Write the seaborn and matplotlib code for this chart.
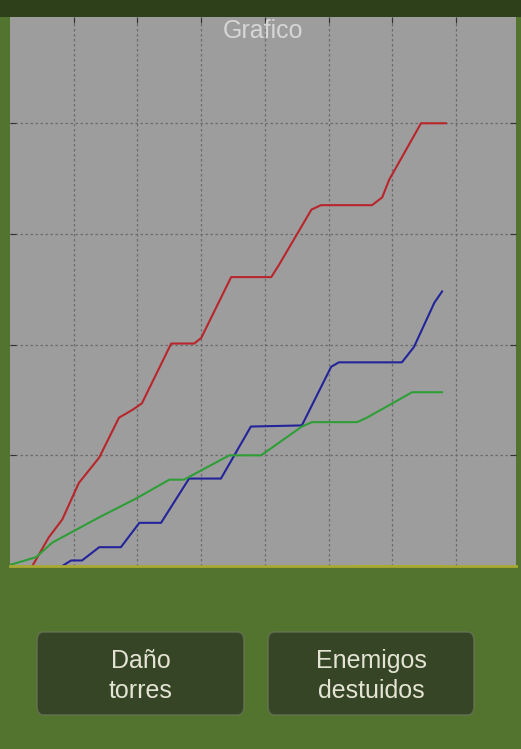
import matplotlib
matplotlib.use("Agg")
import matplotlib.pyplot as plt
from matplotlib.patches import FancyBboxPatch, Rectangle
import seaborn as sns
import pandas as pd

# ---- data ----
red_x = [3.5, 6.1, 8.2, 10.8, 14.0, 17.1, 19.2, 20.7, 25.3, 28.9, 30.0, 34.7, 41.0, 42.2,
         47.3, 48.8, 56.8, 58.4, 59.5, 64.5, 68.4]
red_y = [0, 26, 42, 75, 98, 134, 141, 147, 201, 201, 206, 261, 261, 272,
         322, 326, 326, 333, 349, 400, 400]

blue_x = [8.2, 9.6, 11.3, 14.0, 17.4, 20.3, 23.7, 28.1, 33.1, 37.8, 45.8, 50.4, 51.6,
          61.5, 63.4, 66.6, 67.8]
blue_y = [0, 5, 5, 17, 17, 39, 39, 79, 79, 126, 127, 180, 184, 184, 198, 238, 248]

green_x = [0.0, 4.1, 6.6, 14.0, 19.8, 25.0, 27.3, 34.4, 39.4, 45.8, 47.4, 54.5, 56.0, 63.1, 67.8]
green_y = [1, 8, 21, 44, 61, 78, 78, 100, 100, 126, 130, 130, 134, 157, 157]

yellow_x = [54.2, 67.8]
yellow_y = [0, 0]

title = "Grafico"
button_labels = ["Daño\ntorres", "Enemigos\ndestuidos"]

series = {"red": (red_x, red_y), "blue": (blue_x, blue_y),
          "green": (green_x, green_y), "yellow": (yellow_x, yellow_y)}
rows = []
for name, (xs, ys) in series.items():
    for x, y in zip(xs, ys):
        rows.append({"t": x, "v": y, "serie": name})
df = pd.DataFrame(rows)

palette = {"red": "#b8262c", "blue": "#23239a", "green": "#2e9e36", "yellow": "#c8c83a"}

# ---- figure ----
W, H = 521, 749
fig = plt.figure(figsize=(W / 100, H / 100), dpi=100)
fig.patch.set_facecolor("#52742e")

# darker strip at top
fig.patches.append(Rectangle((0, (H - 17) / H), 1, 17 / H, transform=fig.transFigure,
                             facecolor="#2e401a", edgecolor="none", zorder=0))

ax = fig.add_axes([10 / W, (H - 566) / H, (516 - 10) / W, (566 - 17) / H])
ax.set_facecolor("#9d9d9d")

sns.lineplot(data=df, x="t", y="v", hue="serie", palette=palette, estimator=None,
             sort=False, units="serie", linewidth=1.5, legend=False, ax=ax)

ax.set_xlim(0, 79.4)
ax.set_ylim(0, 496)
ax.set_xticks(range(10, 80, 10))
ax.set_yticks(range(100, 500, 100))
ax.set_xticklabels([])
ax.set_yticklabels([])
ax.tick_params(axis="both", direction="in", length=4, color="#333333",
               top=True, bottom=False, left=True, right=True)
ax.grid(True, color="#6c6c6c", linestyle=(0, (2, 2)), linewidth=0.9)
ax.set_xlabel("")
ax.set_ylabel("")
for s in ["top", "left", "right"]:
    ax.spines[s].set_visible(False)
ax.spines["bottom"].set_color("#a8a832")
ax.spines["bottom"].set_linewidth(2)

ax.text(0.5, 0.975, title, transform=ax.transAxes, ha="center", va="center",
        color="#d6d6d6", fontsize=18, family="Liberation Sans")

# ---- buttons ----
btns = [(37, 244), (268, 474)]
for (x0, x1), label in zip(btns, button_labels):
    y0, y1 = 632, 715
    fig.patches.append(FancyBboxPatch((x0 / W, (H - y1) / H), (x1 - x0) / W, (y1 - y0) / H,
                                      boxstyle="round,pad=0,rounding_size=0.012",
                                      transform=fig.transFigure, facecolor="#2c3422",
                                      edgecolor="#6a7458", linewidth=1.2, alpha=0.72,
                                      zorder=1))
    fig.text((x0 + x1) / 2 / W, (H - 676) / H, label, ha="center", va="center",
             color="#e4e4d4", fontsize=18, family="Liberation Sans", linespacing=1.32,
             zorder=2)

fig.savefig("out.png", dpi=100, facecolor=fig.get_facecolor())
